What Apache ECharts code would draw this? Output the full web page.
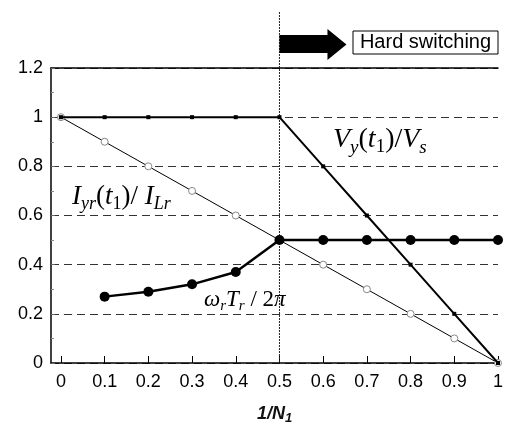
<!DOCTYPE html>
<html><head><meta charset="utf-8">
<script src="https://cdn.jsdelivr.net/npm/echarts@6/dist/echarts.min.js"></script>
<style>html,body{margin:0;padding:0;background:#fff}#c{width:506px;height:430px}</style>
</head><body><div id="c"></div>
<script>
// ---- data ----
const xValues    = [0, 0.1, 0.2, 0.3, 0.4, 0.5, 0.6, 0.7, 0.8, 0.9, 1];
const xTickLabels = ['0','0.1','0.2','0.3','0.4','0.5','0.6','0.7','0.8','0.9','1'];
const yTickValues = [0, 0.2, 0.4, 0.6, 0.8, 1, 1.2];
const yTickLabels = ['0','0.2','0.4','0.6','0.8','1','1.2'];
const vyRatio    = [1, 1, 1, 1, 1, 1, 0.8, 0.6, 0.4, 0.2, 0];         // Vy(t1)/Vs
const iyrRatio   = [1, 0.9, 0.8, 0.7, 0.6, 0.5, 0.4, 0.3, 0.2, 0.1, 0]; // Iyr(t1)/ILr
const omegaRatio = [null, 0.27, 0.29, 0.32, 0.37, 0.5, 0.5, 0.5, 0.5, 0.5, 0.5]; // wr Tr / 2pi
const boundaryX  = 0.5;
const hardLabel  = 'Hard switching';

const pairs = arr => xValues.map((x, i) => [x, arr[i]]).filter(p => p[1] !== null);

const chart = echarts.init(document.getElementById('c'), null, {renderer: 'canvas'});
const sans = '"Liberation Sans", Arial, sans-serif';
const serif = '"Liberation Serif", "Times New Roman", serif';

const option = {
  animation: false,
  backgroundColor: '#fff',
  grid: {left: 51, right: 5, top: 68, bottom: 59, containLabel: false},
  xAxis: [{
    type: 'value', min: -10/440, max: 1,
    name: '{a|1/N}{b|1}', nameLocation: 'middle', nameGap: 40,
    nameTextStyle: {rich: {
      a: {fontFamily: sans, fontStyle: 'italic', fontWeight: 'bold', fontSize: 18, color: '#111', lineHeight: 22},
      b: {fontFamily: sans, fontStyle: 'italic', fontWeight: 'bold', fontSize: 13, color: '#111', lineHeight: 22, verticalAlign: 'bottom'}
    }},
    axisLine: {show: true, onZero: false, lineStyle: {color: '#000', width: 1.5}},
    axisTick: {show: true, inside: true, length: 7, customValues: xValues, lineStyle: {color: '#000', width: 1}},
    axisLabel: {show: true, customValues: xValues, margin: 10, fontFamily: sans, fontSize: 18, color: '#000',
      formatter: v => { const i = xValues.findIndex(x => Math.abs(x - v) < 1e-9); return i >= 0 ? xTickLabels[i] : ''; }},
    splitLine: {show: false}
  }, {
    type: 'value', position: 'top', min: -10/440, max: 1,
    axisLine: {show: true, onZero: false, lineStyle: {color: '#000', width: 1.5}},
    axisTick: {show: false}, axisLabel: {show: false}, splitLine: {show: false}
  }],
  yAxis: {
    type: 'value', min: 0, max: 1.2, interval: 0.2,
    axisLine: {show: true, onZero: false, lineStyle: {color: '#000', width: 1.5}},
    axisTick: {show: true, inside: true, length: 4, lineStyle: {color: '#666'}},
    minorTick: {show: true, splitNumber: 2, length: 3, lineStyle: {color: '#888'}},
    axisLabel: {margin: 8, fontFamily: sans, fontSize: 18, color: '#000',
      formatter: v => { const i = yTickValues.findIndex(y => Math.abs(y - v) < 1e-9); return i >= 0 ? yTickLabels[i] : ''; }},
    splitLine: {show: true, lineStyle: {color: '#333', width: 1, type: [8, 5]}}
  },
  series: [{
    name: 'Iyr', type: 'line', data: pairs(iyrRatio), z: 3,
    lineStyle: {color: '#000', width: 1},
    symbol: 'circle', symbolSize: 7,
    itemStyle: {color: '#fff', borderColor: '#888', borderWidth: 1}
  }, {
    name: 'Vy', type: 'line', data: pairs(vyRatio), z: 4,
    lineStyle: {color: '#000', width: 2},
    symbol: 'rect', symbolSize: 4,
    itemStyle: {color: '#000', borderWidth: 0}
  }, {
    name: 'omega', type: 'line', data: pairs(omegaRatio), z: 5,
    lineStyle: {color: '#000', width: 2.5},
    symbol: 'circle', symbolSize: 10,
    itemStyle: {color: '#000', borderWidth: 0}
  }]
};
chart.setOption(option);

const bx = chart.convertToPixel({xAxisIndex: 0}, boundaryX);
const y0 = chart.convertToPixel({yAxisIndex: 0}, 0);

function mathRich(big, small, lh) {
  return {
    m:  {fontFamily: serif, fontStyle: 'italic', fontSize: big, color: '#000', lineHeight: lh},
    u:  {fontFamily: serif, fontStyle: 'normal', fontSize: big, color: '#000', lineHeight: lh},
    s:  {fontFamily: serif, fontStyle: 'italic', fontSize: small, color: '#000', lineHeight: lh, verticalAlign: 'bottom'},
    s1: {fontFamily: serif, fontStyle: 'normal', fontSize: small, color: '#000', lineHeight: lh, verticalAlign: 'bottom'}
  };
}

chart.setOption({
  graphic: [
    {type: 'line', shape: {x1: bx, y1: 12, x2: bx, y2: y0}, z: 1,
     style: {stroke: '#222', lineWidth: 1, lineDash: [2, 1]}},
    {type: 'polygon', z: 10,
     shape: {points: [[bx, 35], [bx + 48, 35], [bx + 48, 29], [bx + 67, 44.5], [bx + 48, 60], [bx + 48, 53], [bx, 53]]},
     style: {fill: '#000'}},
    {type: 'rect', z: 10, shape: {x: 353, y: 31, width: 145, height: 23},
     style: {fill: '#fff', stroke: '#000', lineWidth: 1}},
    {type: 'text', z: 11, x: 425.5, y: 42.5,
     style: {text: hardLabel, fontFamily: sans, fontSize: 20, fill: '#000', align: 'center', verticalAlign: 'middle'}},
    {type: 'text', z: 11, x: 72, y: 181,
     style: {text: '{m|I}{s|yr}{u|(}{m|t}{s1|1}{u|)/ }{m|I}{s|Lr}', rich: mathRich(27, 18, 32)}},
    {type: 'text', z: 11, x: 333, y: 123,
     style: {text: '{m|V}{s|y}{u|(}{m|t}{s1|1}{u|)/}{m|V}{s|s}', rich: mathRich(28, 19, 34)}},
    {type: 'text', z: 11, x: 204, y: 286,
     style: {text: '{m|ω}{s|r}{m|T}{s|r}{u| / 2}{m|π}', rich: mathRich(23, 15, 28)}}
  ]
});
</script>
</body></html>
